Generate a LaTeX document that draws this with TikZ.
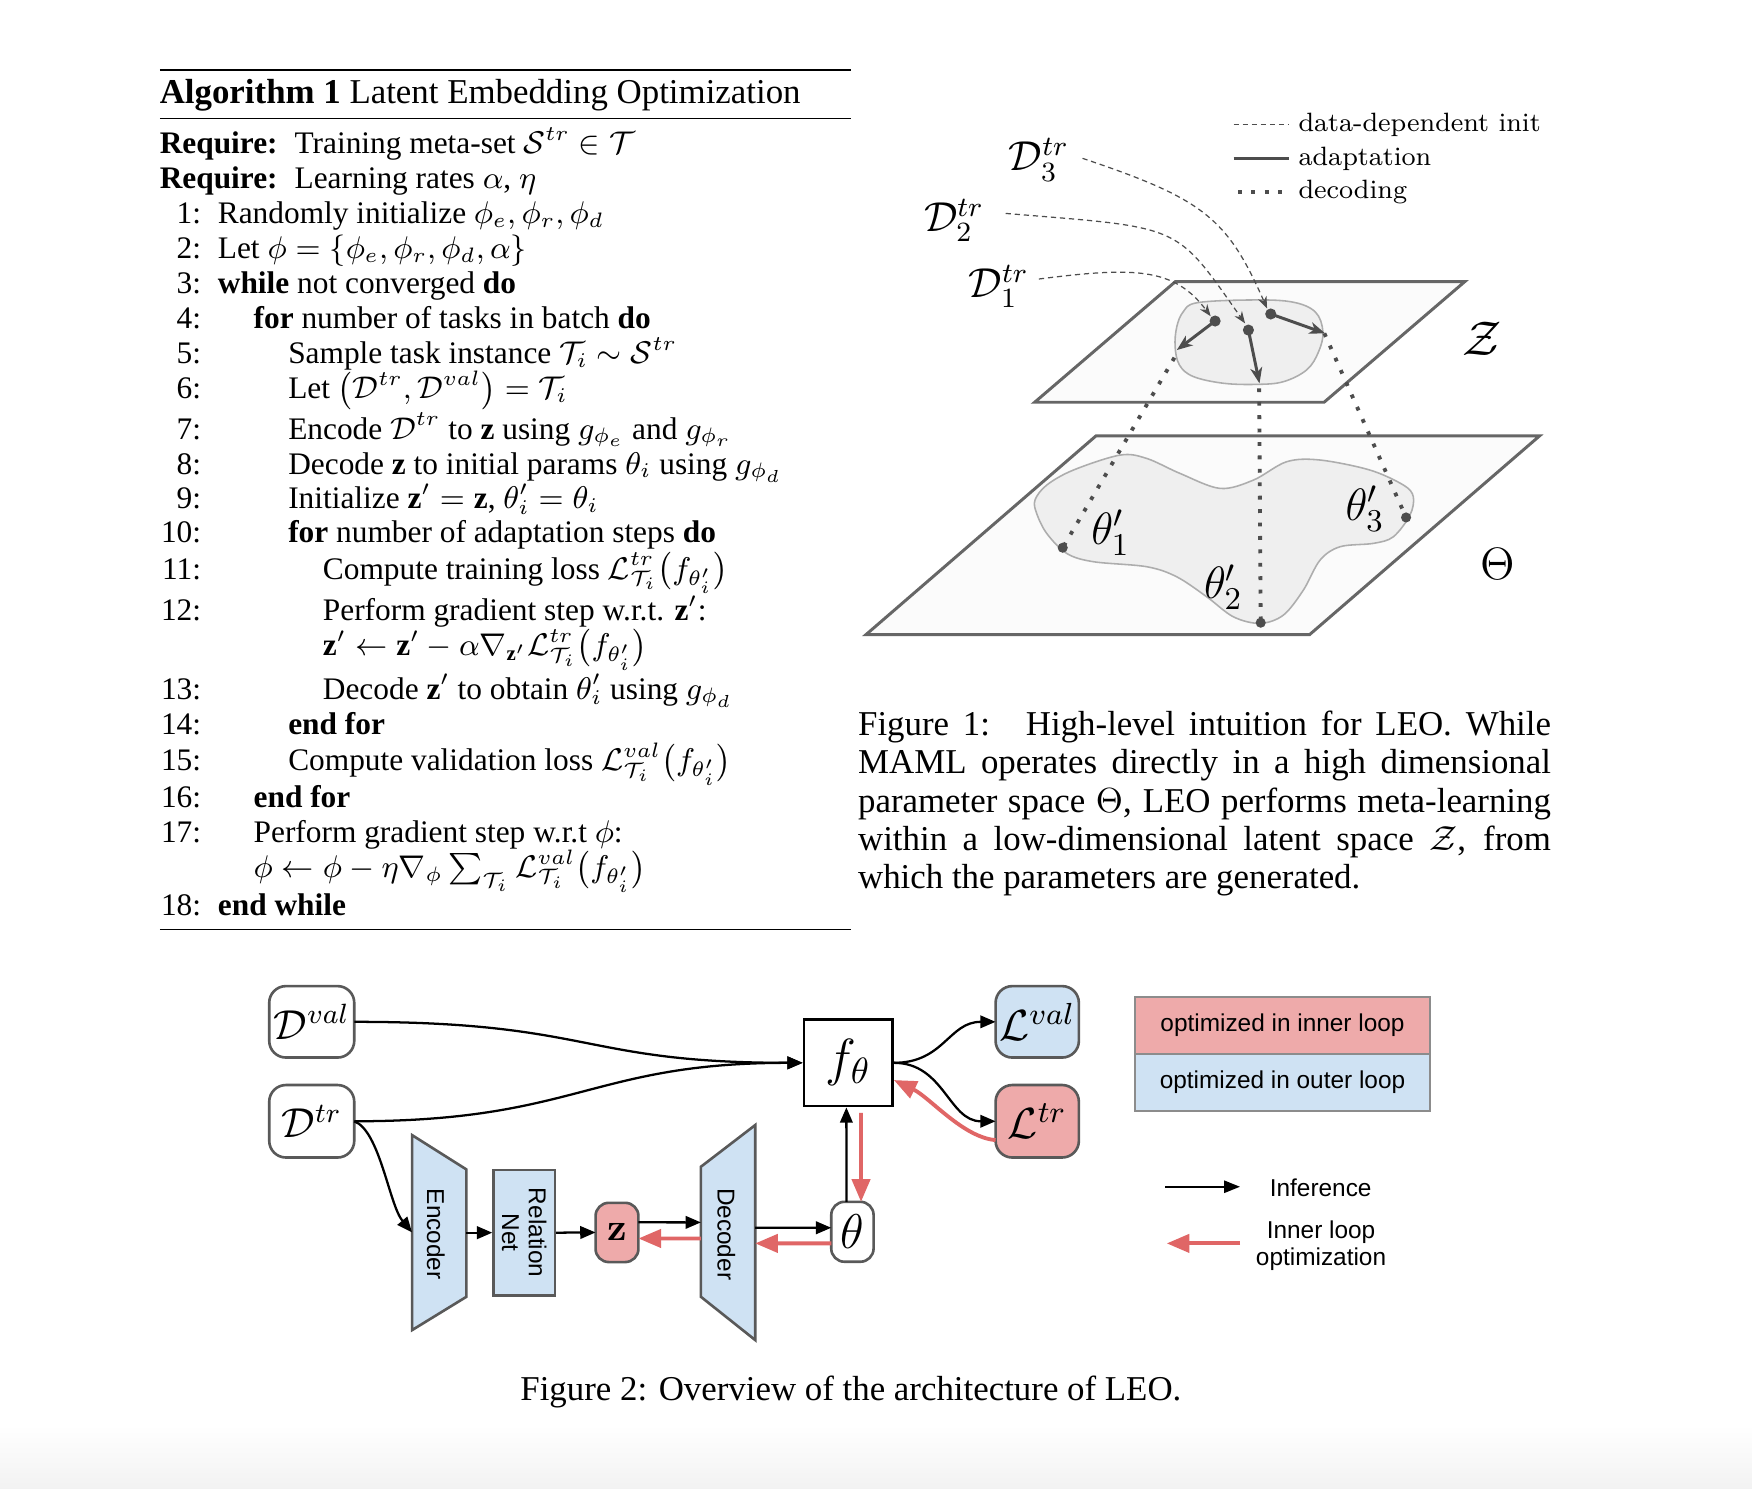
\RequirePackage{fix-cm}
\documentclass[tikz,border=0pt]{standalone}
\usepackage{amsmath}
\usepackage[no-math]{fontspec}
\setmainfont{Liberation Serif}
\setsansfont{Liberation Sans}
\usetikzlibrary{arrows.meta,calc}
\definecolor{pinkfill}{HTML}{EEAAAA}
\definecolor{bluefill}{HTML}{CFE2F3}
\definecolor{redarrow}{HTML}{E06666}
\definecolor{boxgray}{HTML}{595959}
\definecolor{planegray}{HTML}{666666}
\definecolor{blobgray}{HTML}{ADADAD}
\definecolor{blobfill}{HTML}{EFEFEF}
\definecolor{ptgray}{HTML}{4D4D4D}
\newcommand\lmrm{\fontfamily{lmr}\selectfont}
\newcommand\algrow[5]{\node[algnum] (#1n) at (180,#3) {#2};\node[algtxt] (#1t) at (#4,#3) {#5};}
\tikzset{
  algtxt/.style={anchor=base west, inner sep=0pt, outer sep=0pt, font=\fontsize{9}{10}\selectfont},
  algnum/.style={anchor=base east, inner sep=0pt, outer sep=0pt, font=\fontsize{9}{10}\selectfont},
  captxt/.style={anchor=base west, inner sep=0pt, outer sep=0pt},
  rbox/.style={draw=boxgray, line width=0.75pt, rounded corners=4.8pt, inner sep=0pt, outer sep=0pt},
  blk/.style={draw=black, line width=0.65pt, -{Triangle[length=4.4pt,width=3.6pt]}},
  redarr/.style={draw=redarrow, line width=1.1pt, -{Triangle[length=6.5pt,width=5.2pt]}},
  sanslbl/.style={font=\sffamily\fontsize{7}{7.7}\selectfont, inner sep=0pt},
  planesty/.style={draw=planegray, line width=0.85pt, fill=black!1.5, line join=miter},
  blobsty/.style={draw=blobgray, line width=0.45pt, fill=blobfill},
  dashcurve/.style={draw=ptgray, line width=0.35pt, dash pattern=on 1.5pt off 1.1pt, -{Stealth[length=3.4pt,width=2.6pt]}},
  dotline/.style={draw=ptgray, line width=1.1pt, dash pattern=on 1.1pt off 2.75pt},
  adapt/.style={draw=ptgray, line width=0.85pt, -{Stealth[length=4.5pt,width=3.4pt,inset=1.3pt]}},
  mathlbl/.style={inner sep=0pt, outer sep=0pt},
}
\begin{document}
\begin{tikzpicture}[x=0.3206pt,y=-0.3206pt, font=\fontsize{10}{12}\selectfont]
\fill[white] (0,0) rectangle (1568,1332);
\useasboundingbox (0,0) rectangle (1568,1332);
\shade[top color=white, bottom color=black!5, draw=none] (0,1275) rectangle (1568,1332);

% ---------------- Algorithm ----------------
\draw[line width=0.8pt] (143,62.6) -- (762,62.6);
\draw[line width=0.4pt] (143,105.9) -- (762,105.9);
\draw[line width=0.4pt] (143,831.7) -- (762,831.7);
\node[captxt] (head) at (143,92.5) {\textbf{Algorithm 1} Latent Embedding Optimization};
\node[algtxt] (req1) at (143,137.7) {\textbf{Require:}};
\node[algtxt] (req1t) at (263.7,137.7) {Training meta-set $\mathcal{S}^{tr}\in\mathcal{T}$};
\node[algtxt] (req2) at (143,169) {\textbf{Require:}};
\node[algtxt] (req2t) at (263.7,169) {Learning rates $\alpha$, $\eta$};
\algrow{a1}{1:}{200.4}{195}{Randomly initialize $\phi_e, \phi_r, \phi_d$}
\algrow{a2}{2:}{231.7}{195}{Let $\phi=\{\phi_e, \phi_r, \phi_d, \alpha\}$}
\algrow{a3}{3:}{263.0}{195}{\textbf{while} not converged \textbf{do}}
\algrow{a4}{4:}{294.4}{227}{\textbf{for} number of tasks in batch \textbf{do}}
\algrow{a5}{5:}{325.7}{258}{Sample task instance $\mathcal{T}_i\sim\mathcal{S}^{tr}$}
\algrow{a6}{6:}{357.0}{258}{Let $\big(\mathcal{D}^{tr},\mathcal{D}^{val}\big)=\mathcal{T}_i$}
\algrow{a7}{7:}{393.0}{258}{Encode $\mathcal{D}^{tr}$ to \textbf{z} using $g_{\phi_e}$ and $g_{\phi_r}$}
\algrow{a8}{8:}{424.3}{258}{Decode \textbf{z} to initial params $\theta_i$ using $g_{\phi_d}$}
\algrow{a9}{9:}{455.5}{258}{Initialize $\textbf{z}'=\textbf{z}$, $\theta_i'=\theta_i$}
\algrow{a10}{10:}{485.5}{258}{\textbf{for} number of adaptation steps \textbf{do}}
\algrow{a11}{11:}{518.3}{289}{Compute training loss $\mathcal{L}^{tr}_{\mathcal{T}_i}\big(f_{\theta_i'}\big)$}
\algrow{a12}{12:}{555.6}{289}{Perform gradient step w.r.t. $\textbf{z}'$:}
\node[algtxt] (a12b) at (289,586.9) {$\textbf{z}'\leftarrow\textbf{z}'-\alpha\nabla_{\textbf{z}'}\mathcal{L}^{tr}_{\mathcal{T}_i}\big(f_{\theta_i'}\big)$};
\algrow{a13}{13:}{625.7}{289}{Decode $\textbf{z}'$ to obtain $\theta_i'$ using $g_{\phi_d}$}
\algrow{a14}{14:}{657.0}{258}{\textbf{end for}}
\algrow{a15}{15:}{689.9}{258}{Compute validation loss $\mathcal{L}^{val}_{\mathcal{T}_i}\big(f_{\theta_i'}\big)$}
\algrow{a16}{16:}{722.7}{227}{\textbf{end for}}
\algrow{a17}{17:}{754.0}{227}{Perform gradient step w.r.t $\phi$:}
\node[algtxt] (a17b) at (227,785.3) {$\phi\leftarrow\phi-\eta\nabla_\phi\sum_{\mathcal{T}_i}\mathcal{L}^{val}_{\mathcal{T}_i}\big(f_{\theta_i'}\big)$};
\algrow{a18}{18:}{819.6}{195}{\textbf{end while}}

% ---------------- Figure 1 ----------------
\draw[planesty] (981,390) -- (1378,390) -- (1172,568) -- (775,568) -- cycle;
\draw[blobsty] plot[smooth cycle, tension=0.55] coordinates {(926.3,447.5) (936.8,434.1) (960.6,420.7) (1002.4,407.3) (1026.3,410.3) (1056.1,423.7) (1091.9,437.1) (1121.7,429.7) (1151.6,413.2) (1181.4,411.7) (1226.1,420.7) (1256,434.1) (1264.9,444.6) (1261.9,461) (1247,480.4) (1229.1,486.3) (1199.3,489.3) (1181.4,501.3) (1166.5,528.1) (1148.6,550.5) (1127.7,557.9) (1103.8,552) (1080,534.1) (1053.1,516.2) (1026.3,507.2) (978.5,502.7) (954.7,495.3) (936.8,477.4) (927.8,459.5)};
\draw[planesty] (1052,252) -- (1311,252) -- (1185,360) -- (926,360) -- cycle;
\draw[blobsty] plot[smooth cycle, tension=0.6] coordinates {(1071,271) (1116,268.5) (1155,270) (1177,279) (1184,297) (1180,315) (1169.5,331) (1148.6,341.6) (1124.8,344) (1095,343) (1068,337) (1055.6,326.7) (1051.7,310.3) (1053.2,292.4) (1059,279)};

\coordinate (p1) at (1087.5,287.3);
\coordinate (p2) at (1117.3,295.4);
\coordinate (p3) at (1137.3,281.0);
\coordinate (p1t) at (1053.2,313.3);
\coordinate (p2t) at (1127.2,343.1);
\coordinate (p3t) at (1185.9,298.3);
\coordinate (q1) at (1051.1,320.1);
\coordinate (q2) at (1126.9,347.6);
\coordinate (q3) at (1185.3,298.3);
\coordinate (t1) at (951.1,490.2);
\coordinate (t2) at (1128.3,557.3);
\coordinate (t3) at (1258.4,463.1);
\coordinate (s1) at (929.8,249.7);
\coordinate (s2) at (900.1,191.0);
\coordinate (s3) at (968.8,141.7);
\coordinate (e1) at (1083.5,283.0);
\coordinate (e2) at (1114.3,289.4);
\coordinate (e3) at (1134.0,276.0);

\node[mathlbl, anchor=base west, font=\fontsize{12}{14}\selectfont] (D3) at (903,153) {$\mathcal{D}^{tr}_3$};
\node[mathlbl, anchor=base west, font=\fontsize{12}{14}\selectfont] (D2) at (827,207) {$\mathcal{D}^{tr}_2$};
\node[mathlbl, anchor=base west, font=\fontsize{12}{14}\selectfont] (D1) at (867,266) {$\mathcal{D}^{tr}_1$};

\draw[dashcurve] (s3) .. controls (1077.8,178.2) and (1098.5,195.5) .. (e3);
\draw[dashcurve] (s2) .. controls (1059.6,204.1) and (1050.9,199.4) .. (e2);
\draw[dashcurve] (s1) .. controls (1014.1,239) and (1050.7,238.9) .. (e1);

\draw[adapt] (p1) -- (p1t);
\draw[adapt] (p2) -- (p2t);
\draw[adapt] (p3) -- (p3t);

\draw[dotline] (q1) -- (t1);
\draw[dotline] (q2) -- (t2);
\draw[dotline] (q3) -- (t3);

\foreach \p in {p1,p2,p3} {\fill[ptgray] (\p) circle (1.6pt);}
\foreach \p in {t1,t2,t3} {\fill[ptgray] (\p) circle (1.45pt);}

\node[mathlbl, font=\fontsize{13}{15}\selectfont] (th1) at (994,477) {$\theta'_1$};
\node[mathlbl, font=\fontsize{13}{15}\selectfont] (th2) at (1094.9,525.5) {$\theta'_2$};
\node[mathlbl, font=\fontsize{13}{15}\selectfont] (th3) at (1221.7,455.5) {$\theta'_3$};
\node[mathlbl, font=\fontsize{14}{16}\selectfont] (Zl) at (1326.5,303.5) {$\mathcal{Z}$};
\node[mathlbl, font=\fontsize{13}{15}\selectfont] (Tl) at (1340,505) {$\Theta$};

\coordinate (lg1a) at (1104,111.5); \coordinate (lg1b) at (1154,111.5);
\coordinate (lg2a) at (1104,142); \coordinate (lg2b) at (1154,142);
\coordinate (lg3a) at (1108,172); \coordinate (lg3b) at (1154,172);
\draw[draw=ptgray, line width=0.35pt, dash pattern=on 1.5pt off 1.1pt] (lg1a) -- (lg1b);
\draw[draw=ptgray, line width=0.8pt] (lg2a) -- (lg2b);
\draw[dotline] (lg3a) -- (lg3b);
\node[anchor=west, inner sep=0pt, font=\lmrm\fontsize{7.6}{9}\selectfont] (lgt1) at (1161.5,111.5) {data-dependent init};
\node[anchor=west, inner sep=0pt, font=\lmrm\fontsize{7.6}{9}\selectfont] (lgt2) at (1161.5,142) {adaptation};
\node[anchor=west, inner sep=0pt, font=\lmrm\fontsize{7.6}{9}\selectfont] (lgt3) at (1161.5,172) {decoding};

\node[captxt] (c1) at (768,658) {\makebox[198.8pt][s]{Figure 1: \ High-level intuition for LEO. While}};
\node[captxt] (c2) at (768,692.5) {\makebox[198.8pt][s]{MAML operates directly in a high dimensional}};
\node[captxt] (c3) at (768,726.8) {\makebox[198.8pt][s]{parameter space $\Theta$, LEO performs meta-learning}};
\node[captxt] (c4) at (768,761) {\makebox[198.8pt][s]{within a low-dimensional latent space $\mathcal{Z}$, from}};
\node[captxt] (c5) at (768,795.5) {which the parameters are generated.};

% ---------------- Figure 2 ----------------
\node[rbox, fill=white, minimum width=24.4pt, minimum height=20.5pt, font=\fontsize{12}{14}\selectfont] (dval) at (279,914.5) {$\mathcal{D}^{val}$};
\node[rbox, fill=white, minimum width=24.4pt, minimum height=20.8pt, font=\fontsize{12}{14}\selectfont] (dtr) at (279,1003.5) {$\mathcal{D}^{tr}$};
\node[draw=black, line width=0.75pt, fill=white, inner sep=0pt, minimum width=25.4pt, minimum height=24.8pt, font=\fontsize{15}{17}\selectfont] (ftheta) at (759.2,951.2) {$f_\theta$};
\node[rbox, fill=bluefill, minimum width=23.9pt, minimum height=20.5pt, font=\fontsize{12.5}{14}\selectfont] (lval) at (928.3,914.5) {$\mathcal{L}^{val}$};
\node[rbox, fill=pinkfill, minimum width=23.9pt, minimum height=20.8pt, font=\fontsize{12.5}{14}\selectfont] (ltr) at (928.3,1003.5) {$\mathcal{L}^{tr}$};

\draw[fill=bluefill, draw=boxgray, line width=0.75pt, line join=miter] (368.8,1015.9) -- (417.4,1046.6) -- (417.4,1160.6) -- (368.8,1190.4) -- cycle;
\draw[fill=bluefill, draw=boxgray, line width=0.75pt, line join=miter] (627.3,1044.2) -- (675.9,1006.9) -- (675.9,1199.3) -- (627.3,1160.6) -- cycle;
\node[sanslbl, rotate=-90] (enclbl) at (390,1104.6) {Encoder};
\node[sanslbl, rotate=-90] (declbl) at (650,1104.5) {Decoder};
\node[draw=boxgray, line width=0.75pt, fill=bluefill, inner sep=0pt, minimum width=17.6pt, minimum height=35.9pt] (relnet) at (469.2,1103.2) {};
\node[sanslbl, rotate=-90, align=center] (rellbl) at (469.2,1103.2) {Relation\\Net};
\node[rbox, rounded corners=3.8pt, fill=pinkfill, minimum width=12.3pt, minimum height=17pt, font=\fontsize{11}{13}\selectfont] (z) at (552.2,1103) {$\mathbf{z}$};
\node[rbox, rounded corners=3.8pt, fill=white, minimum width=12.15pt, minimum height=17.2pt, font=\fontsize{14}{16}\selectfont] (theta) at (762.9,1102.4) {$\theta$};

\coordinate (encW) at (368.8,1103);
\coordinate (encE) at (417.4,1103.2);
\coordinate (decW1) at (627.3,1094);
\coordinate (decW2) at (627.3,1108.4);
\coordinate (decE1) at (675.9,1098.8);
\coordinate (decE2) at (675.9,1112.8);

\draw[blk] (dval.east) .. controls +(215,0) and +(-200,0) .. (ftheta.west);
\draw[blk] (dtr.east) .. controls +(200,0) and +(-190,0) .. (ftheta.west);
\draw[blk] (dtr.east) .. controls (340,1012) and (348.3,1078.4) .. (encW);
\draw[blk] (encE) -- (relnet.west);
\draw[blk] (relnet.east) -- (z.west);
\draw[blk] ([yshift=2.9pt]z.east) -- (decW1);
\draw[redarr] (decW2) -- ([yshift=-1.73pt]z.east);
\draw[blk] (decE1) -- ([yshift=1.15pt]theta.west);
\draw[redarr] ([yshift=-3.33pt]theta.west) -- (decE2);
\draw[blk] ([xshift=-1.73pt]theta.north) -- ([xshift=-0.55pt]ftheta.south);
\draw[redarr] ([xshift=3.65pt,yshift=-1.6pt]ftheta.south) -- ([xshift=2.47pt]theta.north);
\draw[blk] (ftheta.east) .. controls +(45,0) and +(-42,0) .. (lval.west);
\draw[blk] (ftheta.east) .. controls +(45,0) and +(-42,0) .. (ltr.west);
\draw[redarr] ([yshift=-5.4pt]ltr.west) .. controls (862,1018) and (832,982) .. ([yshift=-4.94pt]ftheta.east);

\node[draw=black!45, line width=0.6pt, fill=pinkfill, minimum width=84.64pt, minimum height=16.35pt, sanslbl, inner sep=0pt] (inner) at (1147.8,917.75) {optimized in inner loop};
\node[draw=black!45, line width=0.6pt, fill=bluefill, minimum width=84.64pt, minimum height=16.35pt, sanslbl, inner sep=0pt] (outer) at (1147.8,968.75) {optimized in outer loop};
\coordinate (infA) at (1042.7,1062.1); \coordinate (infB) at (1109.8,1062.1);
\coordinate (ilA) at (1109.8,1112.8); \coordinate (ilB) at (1044.2,1112.8);
\draw[blk, -{Triangle[length=4.6pt,width=3.5pt]}] (infA) -- (infB);
\draw[redarr] (ilA) -- (ilB);
\node[sanslbl] (inftxt) at (1182,1063) {Inference};
\node[sanslbl, align=center] (iltxt) at (1182.3,1114.5) {Inner loop\\optimization};

\node[anchor=base, inner sep=0pt] (cap2) at (761.5,1253) {Figure 2: Overview of the architecture of LEO.};
\end{tikzpicture}
\end{document}
